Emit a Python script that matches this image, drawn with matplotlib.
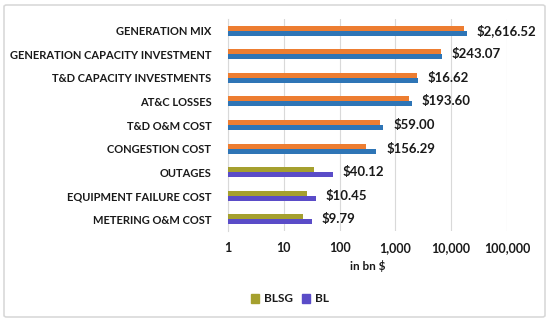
import numpy as np
import matplotlib.pyplot as plt
from matplotlib.patches import FancyBboxPatch, Patch
from matplotlib.ticker import FixedLocator, FuncFormatter

plt.rcParams['font.family'] = ['Lato', 'DejaVu Sans']
plt.rcParams['font.weight'] = 'bold'

categories = ["GENERATION MIX", "GENERATION CAPACITY INVESTMENT",
              "T&D CAPACITY INVESTMENTS", "AT&C LOSSES", "T&D O&M COST",
              "CONGESTION COST", "OUTAGES", "EQUIPMENT FAILURE COST",
              "METERING O&M COST"]
blsg = [17000, 6600, 2460, 1780, 540, 295, 35, 26.5, 22]
bl = [19100, 6800, 2500, 1990, 610, 455, 76, 37, 32]
savings = [2616.52, 243.07, 16.62, 193.60, 59.00, 156.29, 40.12, 10.45, 9.79]

top_colors = ["#ED7D31", "#2E75B6"]
low_colors = ["#A5A02E", "#5A4CC8"]
n_top = 6

txt = "#1a1a1a"
fig = plt.figure(figsize=(5.5, 3.22), dpi=100)
border = FancyBboxPatch((4 / 550, 5 / 322), 541 / 550, 312 / 322,
                        boxstyle="round,pad=0,rounding_size=0.005",
                        transform=fig.transFigure, fc="none",
                        ec="#D9D9D9", lw=1.2, zorder=-10)
fig.add_artist(border)
ax = fig.add_axes([228 / 550, 1 - 231 / 322, 279 / 550, 212 / 322])
ax.set_facecolor("none")

y = np.arange(len(categories))
h = 0.21
c1 = [top_colors[0] if i < n_top else low_colors[0] for i in y]
c2 = [top_colors[1] if i < n_top else low_colors[1] for i in y]
ax.barh(y - h / 2, [v - 1 for v in blsg], height=h, color=c1, left=1, zorder=3)
ax.barh(y + h / 2, [v - 1 for v in bl], height=h, color=c2, left=1, zorder=3)

ax.set_xscale("log")
ax.set_xlim(1, 1e5)
ax.set_ylim(len(categories) - 0.5, -0.5)
ax.set_yticks(y)
ax.set_yticklabels(categories, fontsize=8, color=txt)
ax.xaxis.set_major_locator(FixedLocator([1, 10, 100, 1e3, 1e4, 1e5]))
ax.xaxis.set_minor_locator(FixedLocator([]))
ax.xaxis.set_major_formatter(FuncFormatter(lambda v, p: f"{v:,.0f}"))
ax.tick_params(axis="x", labelsize=9, colors=txt, length=0, pad=8)
ax.tick_params(axis="y", length=0, pad=12)
ax.grid(axis="x", color="#D9D9D9", lw=0.8, zorder=0)
for s in ["top", "right", "bottom"]:
    ax.spines[s].set_visible(False)
ax.spines["left"].set_color("#D9D9D9")
ax.set_xlabel("in bn $", fontsize=8.5, fontweight="bold", color=txt, labelpad=4)

for i, v in enumerate(savings):
    end = max(blsg[i], bl[i])
    ax.annotate(f"${v:,.2f}", (end, i), xytext=(7, 0), textcoords="offset points",
                va="center", ha="left", fontsize=9.5, color=txt, zorder=4)

handles = [Patch(color=low_colors[0]), Patch(color=low_colors[1])]
fig.legend(handles, ["BLSG", "BL"], loc="center", bbox_to_anchor=(290 / 550, 1 - 299 / 322),
           ncol=2, frameon=False, fontsize=8.5, handlelength=0.7, handleheight=0.7,
           columnspacing=0.8, handletextpad=0.4, labelcolor=txt)

fig.savefig("out.png", dpi=100)
